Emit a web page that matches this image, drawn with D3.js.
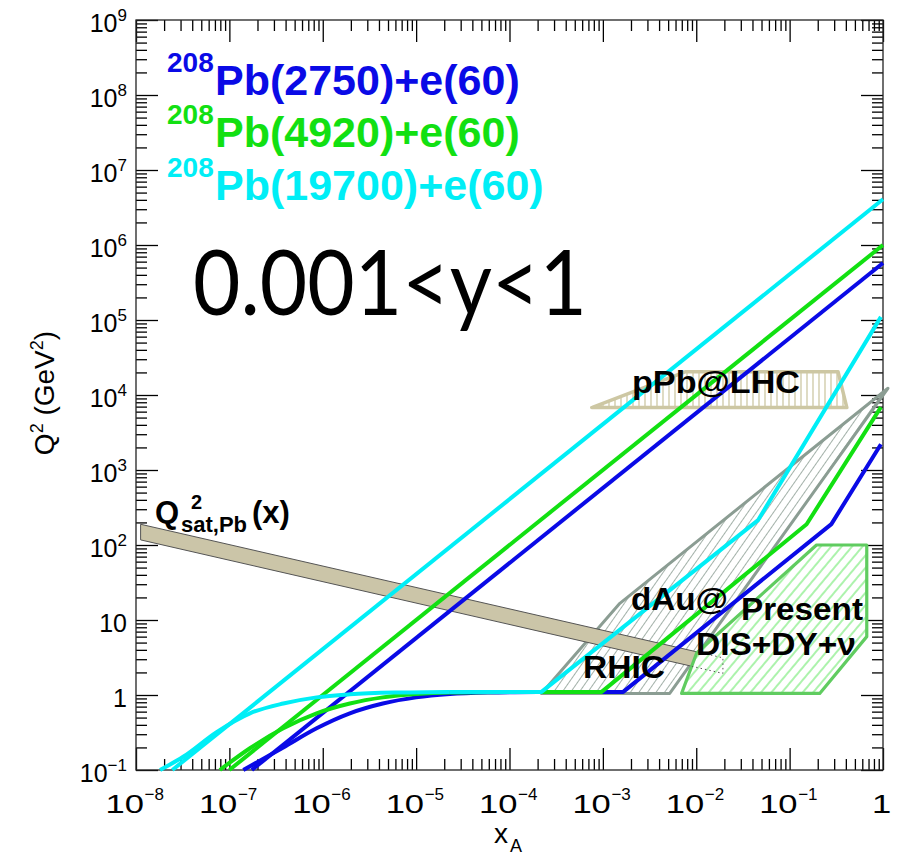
<!DOCTYPE html>
<html>
<head>
    <meta charset="utf-8">
    <style>
        body { margin: 0; background: #fff; }
        svg { display: block; font-family: "Liberation Sans", Arial, sans-serif; }
        .tick line { stroke: #000; stroke-width: 1.3; }
        .domain { display: none; }
        .big { font-family: Lato, "Open Sans", sans-serif; }
        .lbl { font-weight: bold; fill: #000; }
    </style>
</head>
<body>
<svg width="900" height="855"></svg>

<script src="https://cdn.jsdelivr.net/npm/d3@7"></script>
<script>
    // ---- data, [x_A, Q2] ----
    let beams = ["2750", "4920", "19700"]
    let colors = ["#0a0ae6", "#12e012", "#00eef6"]

    // y = 1 edge
    let top2750 = [[1.74e-7, 0.1], [1, 5.75e5]]
    let top4920 = [[1.0e-7, 0.1], [1, 1.0e6]]
    let top19700 = [[2.45e-8, 0.1], [1, 4.07e6]]

    // low-y edge, curved part up to the Q2 ~ 1 plateau
    let bend2750 = [[1.41e-7, 0.1], [3.78e-7, 0.2], [8.6e-7, 0.36], [1.95e-6, 0.57], [4.4e-6, 0.77], [1.0e-5, 0.93], [2.3e-5, 1.03], [6e-5, 1.08], [2e-4, 1.1]]
    let bend4920 = [[7.9e-8, 0.1], [1.66e-7, 0.195], [3.78e-7, 0.36], [8.6e-7, 0.57], [1.95e-6, 0.77], [4.4e-6, 0.93], [1.0e-5, 1.03], [2.3e-5, 1.08], [1e-4, 1.1]]
    let bend19700 = [[1.81e-8, 0.1], [3.2e-8, 0.15], [7.3e-8, 0.32], [1.66e-7, 0.57], [3.78e-7, 0.77], [8.6e-7, 0.93], [1.95e-6, 1.02], [6.7e-6, 1.08], [2.3e-5, 1.1]]

    // low-y edge, plateau and the broken line up to x = 1
    let tail2750 = [[2e-4, 1.1], [1.65e-3, 1.1], [0.28, 190], [0.95, 2.2e3]]
    let tail4920 = [[1e-4, 1.1], [9.7e-4, 1.1], [0.152, 189], [0.95, 6.9e3]]
    let tail19700 = [[2.3e-5, 1.1], [2.2e-4, 1.1], [0.046, 215], [0.95, 1.1e5]]

    // regions
    let pPbLHC = [[7.6e-4, 6.8e3], [7.6e-3, 2.04e4], [0.33, 2.04e4], [0.41, 6.8e3]]
    let dAuRHIC = [[2.2e-4, 1.05], [1.52e-3, 16.7], [1.13, 1.23e4], [5.2e-3, 1.05]]
    let presentDIS = [[6.97e-3, 1.05], [0.0101, 3.63], [0.194, 100], [0.67, 100], [0.67, 6], [0.21, 1.05]]
    let qsatBand = [[1.12e-8, 189], [0.0193, 3.13], [0.0193, 1.94], [1.12e-8, 117]]

    let xDecades = [-8, -7, -6, -5, -4, -3, -2, -1, 0]
    let yDecades = [-1, 0, 1, 2, 3, 4, 5, 6, 7, 8, 9]

    let svg = d3.select("svg")

    let x = d3.scaleLog().domain([1e-8, 1]).range([136, 883])
    let y = d3.scaleLog().domain([0.1, 1e9]).range([770, 20])

    let line = d3.line().x(d => x(d[0])).y(d => y(d[1]))
    let curve = d3.line().x(d => x(d[0])).y(d => y(d[1])).curve(d3.curveMonotoneX)
    let poly = pts => line(pts) + "Z"

    // ---- hatch patterns ----
    let defs = svg.append("defs")
    function hatch(id, size, angle, color, w) {
        defs.append("pattern")
            .attr("id", id)
            .attr("patternUnits", "userSpaceOnUse")
            .attr("width", size).attr("height", size)
            .attr("patternTransform", `rotate(${angle})`)
            .append("line")
            .attr("x1", size / 2).attr("x2", size / 2)
            .attr("y1", 0).attr("y2", size)
            .style("stroke", color).style("stroke-width", w)
    }
    hatch("hPPb", 6, 0, "#cdc7a3", 1.3)
    hatch("hDAu", 7, 35, "#8b9d93", 0.8)
    hatch("hPres", 8, 40, "#2ee02e", 0.8)

    defs.append("clipPath").attr("id", "presClip")
        .append("path").attr("d", poly(presentDIS))

    // ---- axes (inward ticks on all four sides) ----
    let xMajor = xDecades.map(k => Math.pow(10, k))
    let yMajor = yDecades.map(k => Math.pow(10, k))
    let xMinor = [], yMinor = []
    xDecades.slice(0, -1).forEach(k => { for (let m = 2; m < 10; m++) xMinor.push(m * Math.pow(10, k)) })
    yDecades.slice(0, -1).forEach(k => { for (let m = 2; m < 10; m++) yMinor.push(m * Math.pow(10, k)) })

    function ticks(axis, vals, size, tr) {
        svg.append("g")
            .attr("transform", tr)
            .call(axis.tickValues(vals).tickSize(-size).tickFormat(() => ""))
    }
    ticks(d3.axisBottom(x), xMajor, 22, "translate(0,770)")
    ticks(d3.axisBottom(x), xMinor, 11, "translate(0,770)")
    ticks(d3.axisTop(x), xMajor, 22, "translate(0,20)")
    ticks(d3.axisTop(x), xMinor, 11, "translate(0,20)")
    ticks(d3.axisLeft(y), yMajor, 22, "translate(136,0)")
    ticks(d3.axisLeft(y), yMinor, 11, "translate(136,0)")
    ticks(d3.axisRight(y), yMajor, 22, "translate(883,0)")
    ticks(d3.axisRight(y), yMinor, 11, "translate(883,0)")

    svg.append("rect")
        .attr("x", 136).attr("y", 20)
        .attr("width", 747).attr("height", 750)
        .style("fill", "none").style("stroke", "#222").style("stroke-width", 1.3)

    // x tick labels
    xDecades.forEach(k => {
        let g = svg.append("g").attr("transform", `translate(${x(Math.pow(10, k))},813)`)
        if (k == 0) {
            g.append("text").attr("text-anchor", "middle").attr("x", -1)
                .attr("transform", "scale(1.35,1)")
                .style("font-size", "25.6px").text("1")
            return
        }
        g.append("text").attr("x", -30.5 / 1.35)
            .attr("transform", "scale(1.35,1)")
            .style("font-size", "25.6px").text("10")
        g.append("text").attr("x", 8.5).attr("y", -13)
            .style("font-size", "17px").text("\u2212" + (-k))
    })

    // y tick labels
    yDecades.forEach(k => {
        let t = svg.append("text")
            .attr("text-anchor", "end")
            .attr("x", 127)
            .attr("y", y(Math.pow(10, k)) + 12)
            .style("font-size", "25px")
        if (k == 0) { t.text("1"); return }
        t.text("10")
        if (k != 1) {
            t.append("tspan").attr("dy", -11).style("font-size", "17px")
                .text(k < 0 ? "\u2212" + (-k) : k)
        }
    })

    // axis titles
    svg.append("text").attr("x", 494).attr("y", 843).style("font-size", "28px").text("x")
    svg.append("text").attr("x", 510).attr("y", 852).style("font-size", "18px").text("A")

    let yt = svg.append("text")
        .attr("transform", "translate(54,393) rotate(-90)")
        .attr("text-anchor", "middle")
        .style("font-size", "28px")
    yt.append("tspan").text("Q")
    yt.append("tspan").attr("dy", -11).style("font-size", "18px").text("2")
    yt.append("tspan").attr("dy", 11).text(" (GeV")
    yt.append("tspan").attr("dy", -11).style("font-size", "18px").text("2")
    yt.append("tspan").attr("dy", 11).text(")")

    // ---- regions ----
    svg.append("path").attr("d", poly(dAuRHIC))
        .style("fill", "url(#hDAu)").style("stroke", "#8b9d93").style("stroke-width", 3)
        .style("stroke-linejoin", "round")

    svg.append("path").attr("d", poly(qsatBand))
        .style("fill", "#cbc5a8").style("stroke", "#555").style("stroke-width", 1)

    svg.append("path").attr("d", poly(presentDIS)).style("fill", "#fff")
    svg.append("path").attr("d", poly(presentDIS))
        .style("fill", "url(#hPres)").style("stroke", "#60cc60").style("stroke-width", 3.2)
        .style("stroke-linejoin", "round")
    svg.append("path").attr("d", poly(qsatBand))
        .attr("clip-path", "url(#presClip)")
        .style("fill", "none").style("stroke", "#555").style("stroke-width", 1)
        .style("stroke-dasharray", "1.5,3")

    svg.append("path").attr("d", poly(pPbLHC)).style("fill", "#fff")
    svg.append("path").attr("d", poly(pPbLHC))
        .style("fill", "url(#hPPb)").style("stroke", "#cdc7a3").style("stroke-width", 3.5)
        .style("stroke-linejoin", "round")

    // ---- kinematic limits ----
    let tops = [top2750, top4920, top19700]
    let bends = [bend2750, bend4920, bend19700]
    let tails = [tail2750, tail4920, tail19700]

    beams.forEach((b, i) => {
        let g = svg.append("g").attr("class", "beam-" + b)
            .style("fill", "none").style("stroke", colors[i])
            .style("stroke-width", 4).style("stroke-linejoin", "round")
        g.append("path").attr("d", line(tops[i]))
        g.append("path").attr("d", curve(bends[i]))
        g.append("path").attr("d", line(tails[i]))
    })

    // ---- legend ----
    let legY = [95, 147, 200]
    beams.forEach((b, i) => {
        svg.append("text").attr("x", 167).attr("y", legY[i] - 23)
            .style("font-size", "28px").style("font-weight", "bold")
            .style("fill", colors[i]).text("208")
        svg.append("text").attr("x", 215).attr("y", legY[i])
            .style("font-size", "43px").style("font-weight", "bold")
            .style("fill", colors[i]).text("Pb(" + b + ")+e(60)")
    })

    svg.append("text").attr("class", "big")
        .attr("x", 193).attr("y", 315)
        .attr("textLength", 394).attr("lengthAdjust", "spacingAndGlyphs")
        .style("font-size", "92px").text("0.001<y<1")

    // ---- region labels ----
    function label(txt, px, py, size, len) {
        svg.append("text").attr("class", "lbl")
            .attr("x", px).attr("y", py)
            .attr("textLength", len).attr("lengthAdjust", "spacingAndGlyphs")
            .style("font-size", size + "px").text(txt)
    }
    label("pPb@LHC", 632, 393, 31, 168)
    label("dAu@", 631, 610, 31, 97)
    label("RHIC", 583, 678, 31, 82)
    label("Present", 741, 620, 31, 122)
    label("DIS+DY+\u03bd", 696, 655, 31, 160)

    svg.append("text").attr("class", "lbl").attr("x", 155).attr("y", 523)
        .style("font-size", "31px").text("Q")
    svg.append("text").attr("class", "lbl").attr("x", 191).attr("y", 509)
        .style("font-size", "20px").text("2")
    svg.append("text").attr("class", "lbl").attr("x", 181).attr("y", 532)
        .style("font-size", "22px").text("sat,Pb")
    svg.append("text").attr("class", "lbl").attr("x", 252).attr("y", 523)
        .style("font-size", "31px").text("(x)")
</script>
</body>
</html>
